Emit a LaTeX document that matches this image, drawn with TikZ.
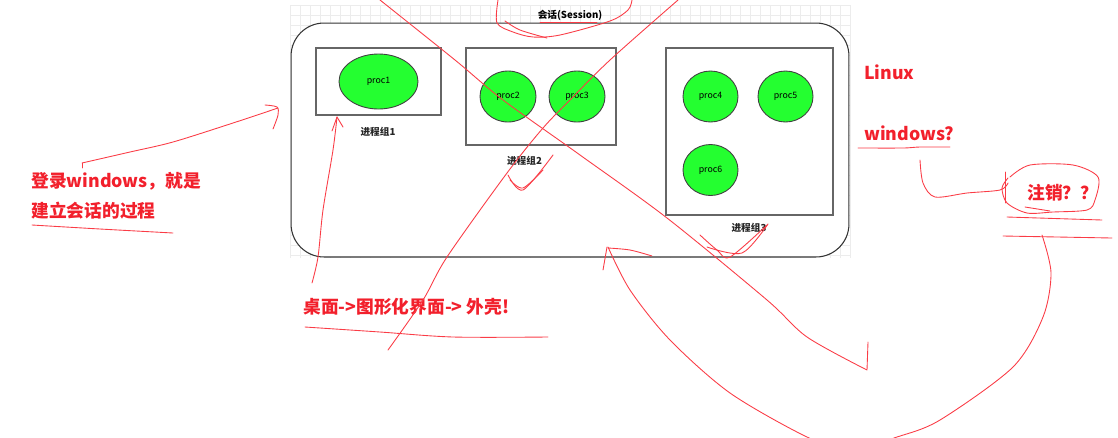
\documentclass[tikz,border=0pt]{standalone}
\usepackage{fontspec}
\setmainfont{Noto Sans CJK SC}
\usetikzlibrary{shapes.geometric}
\definecolor{procgreen}{RGB}{36,255,48}
\definecolor{inkred}{RGB}{242,32,44}
\definecolor{penred}{RGB}{250,60,70}
\definecolor{gridgray}{RGB}{236,236,236}
\tikzset{
	gridln/.style={line width=0.3pt, color=gridgray},
	sessbox/.style={draw=black!80, line width=0.6pt, fill=white, rounded corners=0.66cm, inner sep=0pt},
	grpbox/.style={draw=black!60, line width=0.8pt, fill=white, inner sep=0pt},
	proc/.style={ellipse, draw=black!75, line width=0.5pt, fill=procgreen, inner sep=0pt, font=\fontsize{5}{6}\selectfont},
	grplabel/.style={font=\fontsize{5.5}{6.5}\selectfont\bfseries, text=black!85},
	note/.style={anchor=west, inner sep=0pt, font=\fontsize{10.1}{12}\selectfont\bfseries, text=inkred},
	pen/.style={line width=0.5pt, color=penred, line cap=round, line join=round}
}

\begin{document}
\begin{tikzpicture}[x=0.02cm, y=-0.02cm]
		%%%%% START %%%%%
		\useasboundingbox (0,0) rectangle (1118,437);
		\clip (0,0) rectangle (1118,437);
		
		\foreach \gx in {290,300,...,850} \draw[gridln] (\gx,5) -- (\gx,258);
		\foreach \gy in {5,15,...,255} \draw[gridln] (290,\gy) -- (850,\gy);
		
		\node[sessbox, minimum width=11.16cm, minimum height=4.68cm] (sess) at (570,140) {};
		\node[font=\fontsize{5.5}{6.5}\selectfont\bfseries] (sesstitle) at (570,15) {会话(Session)};
		
		\node[grpbox, minimum width=2.5cm, minimum height=1.34cm] (grp1) at (378.5,81.5) {};
		\node[grpbox, minimum width=3cm, minimum height=1.94cm] (grp2) at (541,96.5) {};
		\node[grpbox, minimum width=3.34cm, minimum height=3.34cm] (grp3) at (749.5,131.5) {};
		
		\node[proc, minimum width=1.58cm, minimum height=1.1cm] (proc1) at (378.5,81.5) {proc1};
		\node[proc, minimum width=1.12cm, minimum height=1.02cm] (proc2) at (508,96.5) {proc2};
		\node[proc, minimum width=1.12cm, minimum height=1.02cm] (proc3) at (577,96.5) {proc3};
		\node[proc, minimum width=1.1cm, minimum height=1.02cm] (proc4) at (710.5,96.5) {proc4};
		\node[proc, minimum width=1.1cm, minimum height=1.02cm] (proc5) at (785.5,96.5) {proc5};
		\node[proc, minimum width=1.1cm, minimum height=1.02cm] (proc6) at (710.5,170) {proc6};
		
		\node[grplabel] (lbl1) at (378,132) {进程组1};
		\node[grplabel] (lbl2) at (524.5,161) {进程组2};
		\node[grplabel] (lbl3) at (749,228) {进程组3};
		
		\node[note] (login) at (31,181) {登录windows，就是};
		\node[note] (build) at (31,211) {建立会话的过程};
		\node[note] (desk) at (303,307) {桌面->图形化界面-> 外壳!};
		\node[note] (linux) at (864,72) {Linux};
		\node[note] (win) at (864,133) {windows?};
		\node[note] (logout) at (1027,193) {注销？？};
		
		%%%%% hand strokes %%%%%
		\draw[pen] (540,22) -- (597,22);
		\draw[pen] plot[smooth] coordinates {(498,0) (497,23) (513,32) (533,37) (560,35) (610,21) (628,10) (632,0)};
		\draw[pen] plot[smooth] coordinates {(505,21) (520,30) (547,38)};
		
		\draw[pen] (82,168) -- (82,163);
		\draw[pen] plot[smooth] coordinates {(82,163) (130,152) (173,142) (233,123) (278,108)};
		\draw[pen] plot[smooth] coordinates {(265,105) (277,107) (278,115) (273,129)};
		\draw[pen] plot[smooth] coordinates {(32,225) (100,229) (173,233)};
		
		\draw[pen] plot[smooth] coordinates {(312,283) (318,257) (323,210) (333,150) (337,117)};
		\draw[pen] (332,131) -- (337,117) -- (343,127);
		\draw[pen] plot[smooth] coordinates {(305,327) (380,332) (453,337) (548,337)};
		
		\draw[pen] plot[smooth] coordinates {(388,350) (423,300) (447,257) (507,173) (543,128) (570,100) (610,60) (678,0)};
		\draw[pen] plot[smooth] coordinates {(380,0) (455,60) (503,100) (580,155) (667,218) (767,300) (807,337) (867,370)} -- (868,342);
		
		\draw[pen] plot[smooth] coordinates {(508,175) (523,190) (553,155)};
		\draw[pen] plot[smooth] coordinates {(510,180) (523,188) (543,170)};
		\draw[pen] plot[smooth] coordinates {(700,235) (717,250) (730,257) (767,225)};
		\draw[pen] plot[smooth] coordinates {(707,247) (742,253) (768,224)};
		
		\draw[pen] (603,270) -- (607,247);
		\draw[pen] plot[smooth] coordinates {(608,248) (630,250) (652,256)};
		\draw[pen] plot[smooth] coordinates {(608,247) (630,290) (670,340) (730,393) (807,437) (850,450) (897,437) (940,420) (1013,367) (1043,317) (1051,273) (1042,235)};
		\draw[pen] (1003,236) -- (1112,238);
		\draw[pen] (1007,217) -- (1102,220);
		
		\draw[pen] plot[smooth] coordinates {(858,148) (903,148) (920,147) (950,147)};
		\draw[pen] plot[smooth] coordinates {(920,160) (923,183) (935,197) (967,193) (1000,190) (1008,183)};
		\draw[pen] plot[smooth] coordinates {(1010,177) (1030,165) (1073,165) (1098,177) (1095,200) (1087,210) (1053,212) (1027,213) (1007,203) (1002,188) (1008,178)};
		\draw[pen] (1005,172) -- (1005,203);
		\draw[pen] (1025,207) -- (1050,211);
		
		%%%%% END %%%%%
	\end{tikzpicture}
\end{document}
